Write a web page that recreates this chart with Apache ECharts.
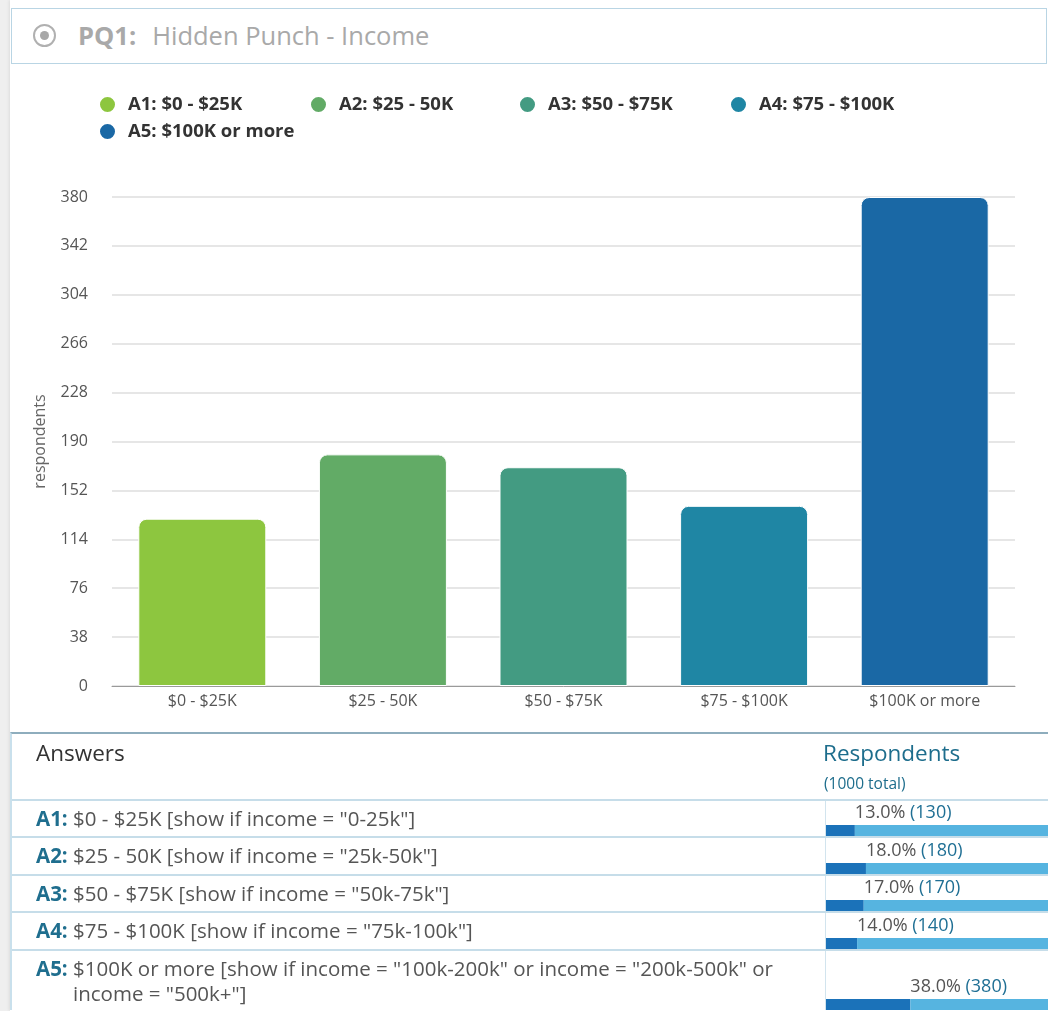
<!DOCTYPE html>
<html>
<head>
<meta charset="utf-8">
<script src="https://cdn.jsdelivr.net/npm/echarts@6/dist/echarts.min.js"></script>
<style>
  html, body { margin: 0; padding: 0; }
  body { width: 1048px; height: 1011px; background: #efefef; font-family: 'Open Sans', sans-serif; overflow: hidden; position: relative; }
  #card { position: absolute; left: 10px; top: 0; width: 1038px; height: 1011px; background: #fff; box-shadow: -1px 0 3px rgba(0,0,0,0.08); }
  #head { position: absolute; left: 11px; top: 8px; width: 1034px; height: 54px; border: 1px solid #b9d5e4; background: #fff; }
  #radio { position: absolute; left: 21px; top: 15px; width: 19px; height: 19px; border: 2px solid #b0b0b0; border-radius: 50%; box-sizing: content-box; }
  #radio:after { content: ''; position: absolute; left: 5px; top: 5px; width: 9px; height: 9px; border-radius: 50%; background: #a8a8a8; }
  #htext { position: absolute; left: 66px; top: 10px; font-size: 25.5px; color: #a9a9a9; line-height: 32px; white-space: nowrap; }
  #htext b { font-weight: 700; margin-right: 16px; }
  #main { position: absolute; left: 10px; top: 63px; width: 1038px; height: 670px; }
  #tbl { position: absolute; left: 10px; top: 732px; width: 1040px; border-top: 2px solid #8eadbd; border-left: 2px solid #c9e0ec; }
  .row { position: relative; display: flex; border-bottom: 2px solid #c6dde9; }
  .row:last-child { border-bottom: none; }
  .ans { width: 813px; padding-left: 24px; font-size: 20.5px; color: #555; box-sizing: border-box; }
  .ans b { color: #1f6e8e; font-weight: 700; }
  .resp { width: 223px; border-left: 1px solid #d2e4ee; position: relative; }
  .hdr .ans { font-size: 22.5px; color: #333; padding-top: 3px; height: 65px; }
  .hdr .resp { border-left: none; }
  .hdr .resp .t1 { font-size: 22.5px; color: #1d6d8c; padding-top: 3px; margin-left: -2px; line-height: 32px; }
  .hdr .resp .t2 { font-size: 15.5px; color: #1d6d8c; margin-top: 3px; margin-left: -1px; }
  .cell { width: 222px; }
</style>
</head>
<body>
<div id="card"></div>
<div id="head"><div id="radio"></div><div id="htext"><b>PQ1:</b>Hidden Punch - Income</div></div>
<div id="main"></div>
<div id="tbl"></div>
<script>
// chart data
var categories = ['$0 - $25K', '$25 - 50K', '$50 - $75K', '$75 - $100K', '$100K or more'];
var answerCodes = ['A1', 'A2', 'A3', 'A4', 'A5'];
var answerConditions = [
  '[show if income = "0-25k"]',
  '[show if income = "25k-50k"]',
  '[show if income = "50k-75k"]',
  '[show if income = "75k-100k"]',
  '[show if income = "100k-200k" or income = "200k-500k" or income = "500k+"]'
];
var respondents = [130, 180, 170, 140, 380];
var totalRespondents = 1000;
var yTicks = [0, 38, 76, 114, 152, 190, 228, 266, 304, 342, 380];

var colors = ['#8dc63f', '#62ab66', '#439b82', '#1f86a4', '#1a68a5'];
// legend slots (left, top) inside the chart
var legendSlots = [[88, 32], [299, 32], [508, 32], [719, 32], [88, 59]];
var rowHeights = [35, 36, 35, 36, 59];

var legendNames = answerCodes.map(function (c, i) { return c + ': ' + categories[i]; });

var charts = echarts.init(document.getElementById('main'));
var series = legendNames.map(function (name, i) {
  return {
    name: name,
    type: 'bar',
    stack: 'total',
    barWidth: 128,
    itemStyle: {
      color: colors[i],
      borderColor: '#fff',
      borderWidth: 1,
      borderRadius: [8, 8, 0, 0]
    },
    data: respondents.map(function (v, j) { return j === i ? v : '-'; })
  };
});
var legends = legendNames.map(function (name, i) {
  return {
    data: [name],
    left: legendSlots[i][0],
    top: legendSlots[i][1],
    padding: 0,
    icon: 'circle',
    itemWidth: 17,
    itemHeight: 17,
    itemGap: 0,
    textStyle: { fontFamily: 'Open Sans', fontWeight: 'bold', fontSize: 18.5, lineHeight: 17, color: '#333', padding: [0, 0, 0, 7] }
  };
});
var options = {
  color: colors,
  textStyle: { fontFamily: 'Open Sans' },
  legend: legends,
  grid: { left: 102, right: 33, top: 134, bottom: 47 },
  xAxis: {
    type: 'category',
    data: categories,
    axisTick: { show: false },
    axisLine: { lineStyle: { color: '#9a9a9a' } },
    axisLabel: { color: '#555', fontSize: 16, margin: 7 }
  },
  yAxis: {
    type: 'value',
    min: yTicks[0],
    max: yTicks[yTicks.length - 1],
    interval: yTicks[1] - yTicks[0],
    name: 'respondents',
    nameLocation: 'middle',
    nameRotate: 90,
    nameGap: 64,
    nameTextStyle: { color: '#666', fontSize: 16 },
    axisLabel: { color: '#555', fontSize: 16, margin: 24 },
    splitLine: { lineStyle: { color: '#e6e6e6', width: 2 } }
  },
  series: series
};
charts.setOption(options);

// answers table
var tbl = document.getElementById('tbl');
var hdr = document.createElement('div');
hdr.className = 'row hdr';
hdr.innerHTML = '<div class="ans">Answers</div><div class="resp"><div class="t1">Respondents</div><div class="t2">(' + totalRespondents + ' total)</div></div>';
tbl.appendChild(hdr);

answerCodes.forEach(function (code, i) {
  var row = document.createElement('div');
  row.className = 'row';
  row.style.height = rowHeights[i] + 'px';
  var ans = document.createElement('div');
  ans.className = 'ans';
  ans.style.paddingTop = '5px';
  ans.style.paddingLeft = '61px';
  ans.style.textIndent = '-37px';
  ans.style.paddingRight = '12px';
  ans.style.lineHeight = '25px';
  ans.innerHTML = '<b>' + code + ':</b> ' + categories[i] + ' ' + answerConditions[i].replace(/"/g, '&quot;');
  var resp = document.createElement('div');
  resp.className = 'resp';
  var cell = document.createElement('div');
  cell.className = 'cell';
  cell.style.height = rowHeights[i] + 'px';
  resp.appendChild(cell);
  row.appendChild(ans);
  row.appendChild(resp);
  tbl.appendChild(row);

  var pct = respondents[i] / totalRespondents * 100;
  var c = echarts.init(cell);
  c.setOption({
    animation: false,
    grid: { left: 0, right: 0, bottom: 0, height: 11 },
    xAxis: { type: 'value', min: 0, max: 100, show: false },
    yAxis: { type: 'category', data: [code], show: false },
    series: [{
      type: 'bar', stack: 'p', barWidth: 11, silent: true,
      itemStyle: { color: '#1b72b9' },
      data: [pct]
    }, {
      type: 'bar', stack: 'p', barWidth: 11, silent: true,
      itemStyle: { color: '#56b4e0' },
      label: {
        show: true,
        position: [0, -3],
        align: 'left',
        verticalAlign: 'bottom',
        formatter: function () { return '{p|' + pct.toFixed(1) + '%}{n| (' + respondents[i] + ')}'; },
        rich: {
          p: { fontFamily: 'Open Sans', fontSize: 18, color: '#555' },
          n: { fontFamily: 'Open Sans', fontSize: 18, color: '#1f6f94' }
        }
      },
      data: [100 - pct]
    }]
  });
});

window.addEventListener('resize', function () {
  charts.resize()
});
</script>
</body>
</html>
